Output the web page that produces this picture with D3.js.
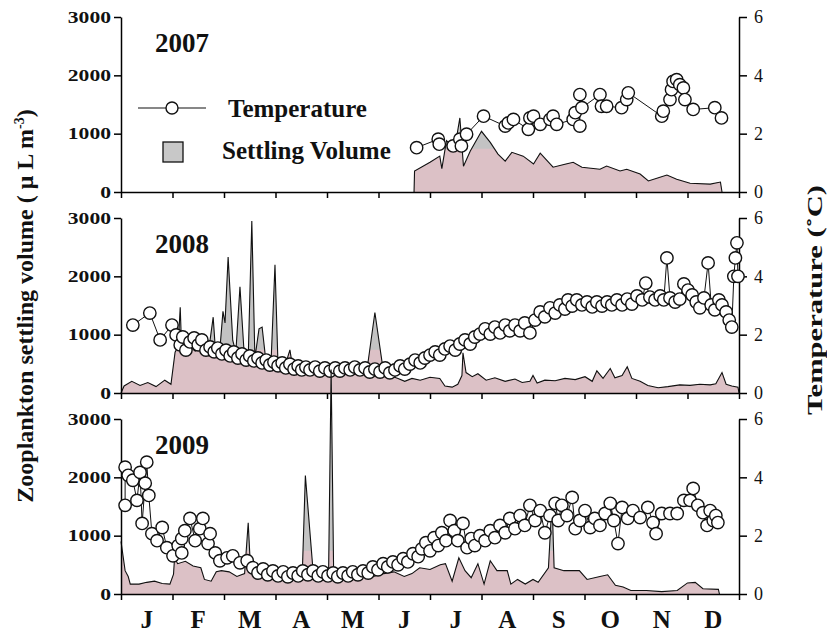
<!DOCTYPE html>
<html>
<head>
<meta charset="utf-8">
<script src="https://cdn.jsdelivr.net/npm/d3@7"></script>
<style>
  body { margin: 0; background: #fff; }
  svg { display: block; font-family: "Liberation Serif", "Times New Roman", serif; }
</style>
</head>
<body>
<svg id="chart" width="827" height="632"></svg>
<script>
// month labels and axis ticks
const MONTHS = ["J", "F", "M", "A", "M", "J", "J", "A", "S", "O", "N", "D"];
const VOL_TICKS = [0, 1000, 2000, 3000];
const TEMP_TICKS = [0, 2, 4, 6];
const YEARS = ["2007", "2008", "2009"];

// [month (0 = 1 Jan, 12 = 31 Dec), settling volume µL m-3]
const vol2007 = [[5.69,0],[5.70,360],[6.00,510],[6.19,615],[6.23,400],[6.32,880],[6.48,750],[6.58,1270],[6.65,440],
  [6.78,700],[7.00,1040],[7.17,850],[7.32,650],[7.46,530],[7.59,680],[7.81,615],[8.01,480],[8.14,665],[8.39,425],
  [8.60,470],[8.78,510],[8.95,425],[9.30,390],[9.43,445],[9.69,360],[9.82,390],[10.08,307],[10.24,190],[10.45,250],
  [10.60,290],[10.79,220],[11.05,150],[11.44,135],[11.64,170],[11.67,0]];

const vol2008 = [[0,0],[0.06,120],[0.21,200],[0.37,130],[0.52,180],[0.68,110],[0.85,220],[0.97,150],[1.05,700],
  [1.11,800],[1.15,1470],[1.18,700],[1.30,820],[1.44,720],[1.57,780],[1.69,650],[1.79,1300],[1.84,650],[1.92,750],
  [1.98,1400],[2.02,1200],[2.08,2330],[2.17,900],[2.23,700],[2.31,1820],[2.39,700],[2.47,600],[2.54,2950],[2.60,600],
  [2.68,1100],[2.74,1130],[2.82,500],[2.91,450],[2.99,2200],[3.05,450],[3.17,420],[3.28,740],[3.34,400],[3.48,380],
  [3.67,320],[3.86,350],[4.06,300],[4.25,350],[4.45,320],[4.64,350],[4.78,420],[4.93,1380],[5.09,400],[5.22,300],
  [5.38,250],[5.51,200],[5.65,250],[5.81,220],[6.00,270],[6.19,250],[6.29,120],[6.43,100],[6.54,150],[6.62,300],
  [6.64,690],[6.70,350],[6.82,280],[6.93,330],[7.09,220],[7.26,260],[7.46,200],[7.65,240],[7.79,180],[7.94,200],
  [8.00,300],[8.08,170],[8.23,220],[8.43,210],[8.62,250],[8.82,230],[9.01,280],[9.15,200],[9.24,380],[9.36,250],
  [9.50,420],[9.59,260],[9.73,300],[9.83,450],[9.92,250],[10.08,200],[10.23,130],[10.43,90],[10.62,110],[10.85,140],
  [11.05,130],[11.24,150],[11.44,140],[11.55,160],[11.67,350],[11.75,150],[11.86,120],[11.98,100],[12,0]];

const vol2009 = [[0,900],[0.08,400],[0.14,300],[0.18,170],[0.35,170],[0.50,200],[0.65,220],[0.80,180],[0.95,170],
  [1.02,340],[1.04,620],[1.10,520],[1.25,560],[1.40,480],[1.55,450],[1.62,250],[1.75,220],[1.85,380],[1.95,400],
  [2.10,380],[2.25,300],[2.40,350],[2.47,1220],[2.52,350],[2.70,300],[2.90,320],[3.10,280],[3.35,300],[3.52,350],
  [3.58,2030],[3.72,500],[3.78,300],[4.03,300],[4.08,3850],[4.13,300],[4.30,350],[4.50,300],[4.70,320],[4.90,300],
  [5.10,350],[5.30,380],[5.50,300],[5.65,350],[5.80,450],[6.00,420],[6.20,500],[6.30,520],[6.43,220],[6.56,620],
  [6.68,400],[6.80,280],[6.93,520],[7.05,170],[7.17,570],[7.30,400],[7.50,400],[7.57,170],[7.70,250],[7.85,170],
  [8.00,250],[8.10,200],[8.30,450],[8.37,1600],[8.41,450],[8.60,400],[8.90,400],[9.05,250],[9.30,300],[9.45,330],
  [9.60,150],[9.75,120],[9.90,60],[10.20,60],[10.50,40],[10.80,60],[11.00,190],[11.15,200],[11.30,90],[11.60,80],[11.62,0]];

// [month, temperature °C]
const temp2007 = [[5.74,1.52],[6.16,1.81],[6.18,1.64],[6.45,1.58],[6.58,1.81],[6.61,1.58],[6.71,1.98],[7.04,2.60],
  [7.46,2.26],[7.52,2.37],[7.62,2.49],[7.91,2.15],[7.94,2.54],[8.01,2.60],[8.14,2.32],[8.33,2.49],[8.39,2.60],
  [8.46,2.32],[8.78,2.49],[8.82,2.72],[8.91,2.26],[8.91,3.34],[8.95,2.89],[9.30,3.34],[9.33,2.94],[9.43,2.94],
  [9.72,2.89],[9.82,3.17],[9.85,3.40],[10.50,2.60],[10.53,2.77],[10.66,3.17],[10.69,3.51],[10.72,3.79],[10.79,3.85],
  [10.85,3.68],[10.92,3.57],[10.95,3.17],[11.11,2.83],[11.53,2.89],[11.66,2.54]];

const temp2008 = [[0.23,2.33],[0.56,2.74],[0.76,1.82],[0.99,2.33],[1.07,1.99],[1.15,1.65],[1.20,1.92],[1.26,1.47],
  [1.34,1.75],[1.42,1.89],[1.50,1.65],[1.57,1.82],[1.65,1.47],[1.73,1.58],[1.81,1.41],[1.88,1.54],[1.96,1.34],
  [2.04,1.47],[2.12,1.27],[2.19,1.41],[2.27,1.20],[2.35,1.34],[2.43,1.13],[2.50,1.27],[2.58,1.10],[2.66,1.20],
  [2.74,1.03],[2.82,1.13],[2.89,0.96],[2.97,1.06],[3.05,0.93],[3.13,1.03],[3.20,0.86],[3.28,0.99],[3.36,0.82],
  [3.44,0.93],[3.51,0.79],[3.59,0.89],[3.67,0.79],[3.77,0.89],[3.86,0.75],[3.96,0.86],[4.06,0.75],[4.16,0.86],
  [4.25,0.75],[4.35,0.86],[4.45,0.79],[4.54,0.89],[4.64,0.79],[4.74,0.86],[4.83,0.72],[4.93,0.82],[5.03,0.72],
  [5.13,0.86],[5.22,0.69],[5.32,0.79],[5.42,0.93],[5.51,0.82],[5.61,0.99],[5.71,1.13],[5.81,1.03],[5.90,1.20],
  [6.00,1.30],[6.10,1.41],[6.19,1.30],[6.29,1.51],[6.39,1.61],[6.49,1.47],[6.58,1.68],[6.68,1.82],[6.78,1.68],
  [6.87,1.92],[6.97,2.02],[7.07,2.20],[7.17,2.02],[7.26,2.26],[7.36,2.06],[7.46,2.33],[7.55,2.13],[7.65,2.33],
  [7.75,2.13],[7.84,2.40],[7.94,2.06],[8.04,2.50],[8.14,2.78],[8.23,2.61],[8.33,2.92],[8.43,2.74],[8.52,3.02],
  [8.62,2.88],[8.68,3.19],[8.76,2.98],[8.85,3.19],[8.95,3.02],[9.05,3.12],[9.15,2.95],[9.24,3.12],[9.34,2.98],
  [9.44,3.12],[9.53,3.02],[9.63,3.19],[9.73,3.02],[9.83,3.22],[9.92,3.05],[10.02,3.33],[10.12,3.19],[10.19,3.77],
  [10.27,3.29],[10.37,3.19],[10.47,3.33],[10.54,3.19],[10.60,4.63],[10.66,3.26],[10.76,3.12],[10.85,3.22],
  [10.93,3.74],[11.01,3.53],[11.09,3.36],[11.17,3.12],[11.24,2.92],[11.32,3.26],[11.40,4.46],[11.46,3.02],
  [11.53,2.85],[11.61,3.19],[11.67,3.02],[11.75,2.78],[11.81,2.50],[11.86,2.26],[11.90,4.00],[11.93,4.63],
  [11.96,5.15],[11.98,4.00]];

const temp2009 = [[0.08,3.04],[0.08,4.35],[0.14,4.07],[0.23,3.90],[0.31,3.21],[0.37,4.17],[0.41,2.42],[0.47,3.80],
  [0.50,4.52],[0.54,3.38],[0.60,2.07],[0.70,1.83],[0.80,2.28],[0.89,1.59],[1.01,1.31],[1.11,1.66],[1.18,1.41],
  [1.18,1.90],[1.24,2.17],[1.34,2.59],[1.44,1.83],[1.53,2.24],[1.59,2.59],[1.69,1.73],[1.73,2.07],[1.83,1.41],
  [1.92,1.14],[2.06,1.24],[2.17,1.31],[2.31,1.07],[2.45,1.14],[2.56,0.90],[2.66,0.72],[2.76,0.86],[2.85,0.66],
  [2.95,0.79],[3.05,0.62],[3.15,0.76],[3.24,0.59],[3.34,0.72],[3.44,0.62],[3.53,0.79],[3.63,0.66],[3.73,0.79],
  [3.83,0.62],[3.92,0.76],[4.02,0.62],[4.12,0.72],[4.21,0.59],[4.31,0.72],[4.41,0.62],[4.50,0.76],[4.60,0.66],
  [4.70,0.79],[4.80,0.72],[4.89,0.93],[4.99,0.83],[5.09,1.04],[5.18,0.93],[5.28,1.10],[5.38,1.00],[5.48,1.21],
  [5.57,1.10],[5.67,1.38],[5.77,1.28],[5.84,1.55],[5.92,1.76],[6.00,1.48],[6.08,1.93],[6.16,1.66],[6.23,2.10],
  [6.31,1.83],[6.39,2.52],[6.47,2.17],[6.54,1.83],[6.64,2.42],[6.72,1.59],[6.80,1.90],[6.87,1.66],[6.97,2.00],
  [7.07,1.83],[7.17,2.17],[7.26,1.93],[7.36,2.35],[7.46,2.10],[7.55,2.59],[7.65,2.24],[7.75,2.69],[7.84,2.35],
  [7.94,3.04],[8.04,2.52],[8.14,2.86],[8.23,2.10],[8.33,2.69],[8.43,3.11],[8.49,2.52],[8.56,3.04],[8.66,2.69],
  [8.76,3.31],[8.82,2.24],[8.91,2.52],[9.01,2.86],[9.11,2.28],[9.20,2.59],[9.30,2.35],[9.40,2.76],[9.50,3.11],
  [9.57,2.52],[9.65,1.73],[9.73,2.97],[9.84,2.59],[9.94,2.86],[10.08,2.62],[10.23,2.97],[10.33,2.45],[10.39,2.07],
  [10.50,2.76],[10.66,2.76],[10.80,2.76],[10.93,3.21],[11.05,3.21],[11.11,3.62],[11.20,3.04],[11.30,2.79],
  [11.38,2.35],[11.44,2.86],[11.50,2.52],[11.55,2.69],[11.59,2.45]];

const VOLS = [vol2007, vol2008, vol2009];
const TEMPS = [temp2007, temp2008, temp2009];

const svg = d3.select("#chart");
const PANEL_TOP = [17, 218, 419];
const PANEL_H = 175;
const PINK_LIMIT = 740;

const x = d3.scaleLinear().domain([0, 12]).range([121, 739]);

function styleAxis(g) {
  g.select(".domain").attr("stroke", "#000").attr("stroke-width", 1.5);
  g.selectAll(".tick line").attr("stroke", "#000").attr("stroke-width", 1.5);
}

YEARS.forEach((year, i) => {
  const top = PANEL_TOP[i], bottom = top + PANEL_H;
  const yVol = d3.scaleLinear().domain([0, 3000]).range([bottom, top]);
  const yTemp = d3.scaleLinear().domain([0, 6]).range([bottom, top]);
  const g = svg.append("g");

  g.append("clipPath").attr("id", "pink" + i)
    .append("rect")
      .attr("x", 0).attr("width", 827)
      .attr("y", yVol(PINK_LIMIT)).attr("height", yVol(0) - yVol(PINK_LIMIT));

  const area = d3.area()
    .x(d => x(d[0]))
    .y0(yVol(0))
    .y1(d => yVol(d[1]));
  const volLine = d3.line()
    .x(d => x(d[0]))
    .y(d => yVol(d[1]));

  g.append("path").datum(VOLS[i]).attr("d", area).attr("fill", "#c3c3c3");
  g.append("path").datum(VOLS[i]).attr("d", area).attr("fill", "#dcc1c6")
    .attr("clip-path", "url(#pink" + i + ")");
  g.append("path").datum(VOLS[i]).attr("d", volLine)
    .attr("fill", "none").attr("stroke", "#111").attr("stroke-width", 1.1);

  // axes
  g.append("g")
    .attr("transform", "translate(0," + bottom + ")")
    .call(d3.axisBottom(x).tickValues(MONTHS.map((m, k) => k).concat([12])).tickFormat("").tickSize(6).tickSizeOuter(0))
    .call(styleAxis);

  g.append("g")
    .attr("transform", "translate(" + x(0) + ",0)")
    .call(d3.axisLeft(yVol).tickValues(VOL_TICKS).tickFormat(d3.format("d")).tickSize(7).tickPadding(3).tickSizeOuter(0))
    .call(styleAxis)
    .selectAll("text")
      .attr("font-family", "Liberation Serif")
      .attr("font-size", 16).attr("font-weight", "bold").attr("fill", "#111")
      .attr("textLength", d => String(d).length * 10.8)
      .attr("lengthAdjust", "spacingAndGlyphs");

  g.append("g")
    .attr("transform", "translate(" + x(12) + ",0)")
    .call(d3.axisRight(yTemp).tickValues(TEMP_TICKS).tickFormat(d3.format("d")).tickSize(8).tickPadding(7).tickSizeOuter(0))
    .call(styleAxis)
    .selectAll("text")
      .attr("font-family", "Liberation Serif")
      .attr("font-size", 18).attr("fill", "#111");

  // temperature
  const tempLine = d3.line()
    .x(d => x(d[0]))
    .y(d => yTemp(d[1]));
  g.append("path").datum(TEMPS[i]).attr("d", tempLine)
    .attr("fill", "none").attr("stroke", "#111").attr("stroke-width", 1);
  g.selectAll("circle.t").data(TEMPS[i]).enter()
    .append("circle")
      .attr("class", "t")
      .attr("cx", d => x(d[0]))
      .attr("cy", d => yTemp(d[1]))
      .attr("r", 6.2)
      .attr("fill", "#fff")
      .attr("stroke", "#111")
      .attr("stroke-width", 1.4);

  g.append("text")
    .attr("x", 155).attr("y", top + 35)
    .attr("font-size", 27).attr("font-weight", "bold").attr("fill", "#111")
    .text(year);
});

// month labels under the last panel
svg.append("g").selectAll("text")
  .data(MONTHS)
  .enter()
  .append("text")
    .attr("x", (d, k) => x(k + 0.5))
    .attr("y", 628)
    .attr("text-anchor", "middle")
    .attr("font-size", 25).attr("font-weight", "bold").attr("fill", "#111")
    .text(d => d);

// legend
const lg = svg.append("g");
lg.append("line").attr("x1", 138).attr("x2", 206).attr("y1", 108).attr("y2", 108)
  .attr("stroke", "#111").attr("stroke-width", 1.2);
lg.append("circle").attr("cx", 172).attr("cy", 108).attr("r", 6)
  .attr("fill", "#fff").attr("stroke", "#111").attr("stroke-width", 1.4);
lg.append("rect").attr("x", 163).attr("y", 142).attr("width", 20).attr("height", 20)
  .attr("fill", "#c8c8c8").attr("stroke", "#111").attr("stroke-width", 1.3);
lg.append("text").attr("x", 228).attr("y", 117)
  .attr("font-size", 25).attr("font-weight", "bold").attr("fill", "#111")
  .text("Temperature");
lg.append("text").attr("x", 222).attr("y", 159)
  .attr("font-size", 25).attr("font-weight", "bold").attr("fill", "#111")
  .text("Settling Volume");

// axis titles
const yTitle = svg.append("text")
  .attr("transform", "translate(33,306) rotate(-90)")
  .attr("text-anchor", "middle")
  .attr("font-size", 24).attr("font-weight", "bold").attr("fill", "#111");
yTitle.append("tspan").text("Zooplankton settling volume ( \u03bc L m");
yTitle.append("tspan").attr("font-size", 14).attr("dy", -9).text("-3");
yTitle.append("tspan").attr("dy", 9).text(")");

svg.append("text")
  .attr("transform", "translate(822,300) rotate(-90)")
  .attr("text-anchor", "middle")
  .attr("font-size", 21).attr("font-weight", "bold").attr("fill", "#111")
  .attr("textLength", 230).attr("lengthAdjust", "spacingAndGlyphs")
  .text("Temperature (\u02daC)");
</script>
</body>
</html>
